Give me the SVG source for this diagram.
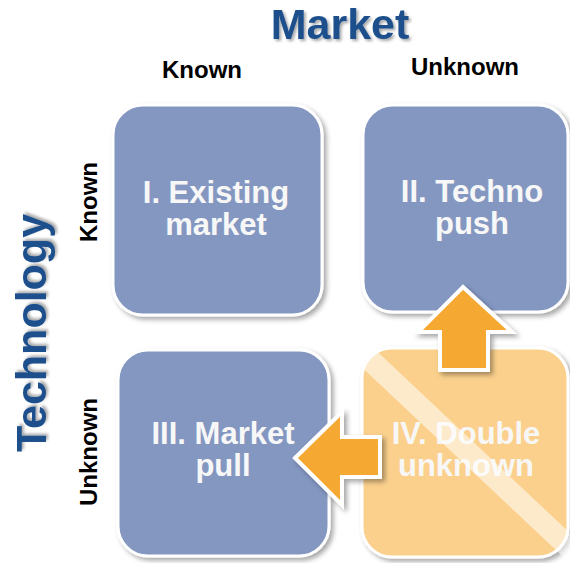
<svg xmlns="http://www.w3.org/2000/svg" width="570" height="563" viewBox="0 0 570 563">
<defs>
<filter id="sh" x="-10%" y="-10%" width="130%" height="130%">
<feDropShadow dx="3" dy="3" stdDeviation="2.5" flood-color="#000" flood-opacity="0.35"/>
</filter>
<filter id="tsh" x="-10%" y="-10%" width="130%" height="130%">
<feDropShadow dx="2" dy="2" stdDeviation="1.5" flood-color="#000" flood-opacity="0.35"/>
</filter>
<clipPath id="c4"><rect x="362" y="348" width="208" height="215"/></clipPath>
</defs>
<style>
.box{fill:#8497C1;stroke:#FFFFFF;stroke-width:3;filter:url(#sh)}
.box4{fill:#FBD08C;stroke:#FFFFFF;stroke-width:3;filter:url(#sh)}
.bt{font-family:"Liberation Sans",Arial,sans-serif;font-weight:bold;font-size:31px;fill:#F7F7F7;text-anchor:middle}
.axis{font-family:"Liberation Sans",Arial,sans-serif;font-weight:bold;font-size:43px;fill:#1C4F8C;text-anchor:middle;filter:url(#tsh)}
.lab{font-family:"Liberation Sans",Arial,sans-serif;font-weight:bold;font-size:24px;fill:#000;text-anchor:middle}
.arr{fill:#F5A833;stroke:#FFFFFF;stroke-width:4;stroke-linejoin:miter;filter:url(#sh)}
</style>
<rect width="570" height="563" fill="#FFFFFF"/>
<g id="titles">
<text class="axis" x="340" y="39">Market</text>
<text class="axis" transform="translate(46,333) rotate(-90)" x="0" y="0">Technology</text>
<text class="lab" x="202" y="78">Known</text>
<text class="lab" x="465" y="75">Unknown</text>
<text class="lab" transform="translate(97,202) rotate(-90)" x="0" y="0">Known</text>
<text class="lab" transform="translate(97,452) rotate(-90)" x="0" y="0">Unknown</text>
</g>
<g id="node1">
<rect class="box" x="113" y="105" width="209" height="210" rx="30"/>
<text class="bt" x="216" y="203">I. Existing</text>
<text class="bt" x="216" y="235">market</text>
</g>
<g id="node2">
<rect class="box" x="363" y="105" width="205" height="207" rx="30"/>
<text class="bt" x="472" y="202">II. Techno</text>
<text class="bt" x="472" y="234">push</text>
</g>
<g id="node3">
<rect class="box" x="118" y="350" width="211" height="206" rx="30"/>
<text class="bt" x="223" y="444">III. Market</text>
<text class="bt" x="223" y="476">pull</text>
</g>
<g id="node4">
<rect class="box4" x="362" y="348" width="206" height="209" rx="30"/>
<text class="bt" x="466" y="444">IV. Double</text>
<text class="bt" x="466" y="476">unknown</text>
<line x1="368" y1="358" x2="572" y2="550" stroke="#FFFFFF" stroke-opacity="0.55" stroke-width="22" clip-path="url(#c4)"/>
</g>
<g id="connectors">
<polygon class="arr" points="463,287 512,332 488,332 488,370 440,370 440,332 418,332"/>
<polygon class="arr" points="295,458 342,412 342,437 380,437 380,477 342,477 342,505"/>
</g>
</svg>
